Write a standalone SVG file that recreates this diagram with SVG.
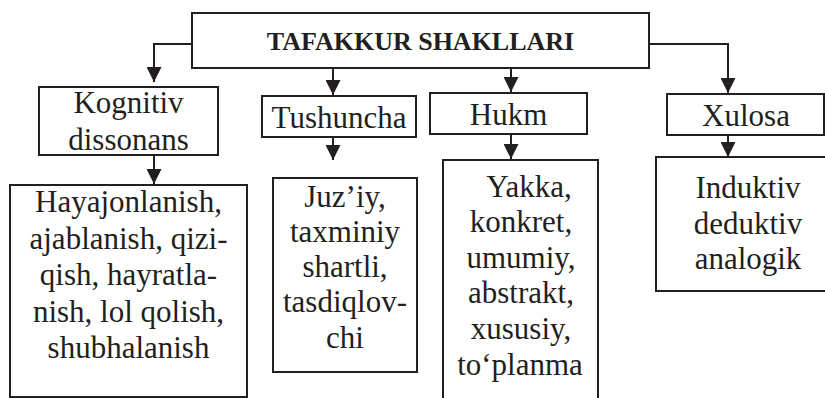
<svg xmlns="http://www.w3.org/2000/svg" width="825" height="398" viewBox="0 0 825 398">
<style>
.box{fill:#fff;stroke:#231f20;stroke-width:2}
.t{font-family:"Liberation Serif","Times New Roman",serif;font-size:31px;fill:#231f20;text-anchor:middle}
.title{font-family:"Liberation Serif","Times New Roman",serif;font-size:26px;font-weight:bold;fill:#231f20;text-anchor:middle}
.c{fill:none;stroke:#231f20;stroke-width:2}
</style>
<defs>
<marker id="ah" viewBox="0 0 10 10" refX="10" refY="5" markerUnits="userSpaceOnUse" markerWidth="15" markerHeight="15" orient="auto">
<path d="M0,0 L10,5 L0,10 z" fill="#231f20"/>
</marker>
</defs>
<rect width="825" height="398" fill="#fff"/>
<g id="connectors">
<path class="c" d="M192,44 H154 V82" marker-end="url(#ah)"/>
<path class="c" d="M333,68 V95" marker-end="url(#ah)"/>
<path class="c" d="M511,68 V92" marker-end="url(#ah)"/>
<path class="c" d="M649,44 H728 V93" marker-end="url(#ah)"/>
<path class="c" d="M154,155 V184" marker-end="url(#ah)"/>
<path class="c" d="M333,137 V160" marker-end="url(#ah)"/>
<path class="c" d="M511,134 V159" marker-end="url(#ah)"/>
<path class="c" d="M728,135 V157" marker-end="url(#ah)"/>
</g>
<g id="root">
<rect class="box" x="192" y="13" width="457" height="55"/>
<text class="title" x="420.5" y="50">TAFAKKUR SHAKLLARI</text>
</g>
<g id="kognitiv">
<rect class="box" x="39" y="87" width="179" height="68"/>
<text class="t" x="128.5" y="113">Kognitiv</text>
<text class="t" x="128.5" y="150">dissonans</text>
</g>
<g id="tushuncha">
<rect class="box" x="262" y="96" width="154" height="41"/>
<text class="t" x="339" y="128">Tushuncha</text>
</g>
<g id="hukm">
<rect class="box" x="430" y="93" width="157" height="41"/>
<text class="t" x="508.5" y="125">Hukm</text>
</g>
<g id="xulosa">
<rect class="box" x="667" y="94" width="157" height="41"/>
<text class="t" x="746" y="126">Xulosa</text>
</g>
<g id="hissiyot">
<rect class="box" x="10" y="185" width="237" height="212"/>
<text class="t" x="128.5" y="212">Hayajonlanish,</text>
<text class="t" x="128.5" y="248.5">ajablanish, qizi-</text>
<text class="t" x="128.5" y="285">qish, hayratla-</text>
<text class="t" x="128.5" y="321.5">nish, lol qolish,</text>
<text class="t" x="128.5" y="358">shubhalanish</text>
</g>
<g id="tushuncha-turlari">
<rect class="box" x="273" y="178" width="144" height="194"/>
<text class="t" x="345" y="207">Juz’iy,</text>
<text class="t" x="345" y="242">taxminiy</text>
<text class="t" x="345" y="277">shartli,</text>
<text class="t" x="345" y="312">tasdiqlov-</text>
<text class="t" x="345" y="348">chi</text>
</g>
<g id="hukm-turlari">
<rect class="box" x="443" y="160" width="155" height="250"/>
<text class="t" x="529" y="197">Yakka,</text>
<text class="t" x="521" y="232">konkret,</text>
<text class="t" x="521" y="268">umumiy,</text>
<text class="t" x="521" y="303">abstrakt,</text>
<text class="t" x="521" y="339">xususiy,</text>
<text class="t" x="520" y="375">to‘planma</text>
</g>
<g id="xulosa-turlari">
<rect class="box" x="656" y="157" width="184" height="134"/>
<text class="t" x="748" y="198">Induktiv</text>
<text class="t" x="748" y="234">deduktiv</text>
<text class="t" x="748" y="269">analogik</text>
</g>
</svg>
